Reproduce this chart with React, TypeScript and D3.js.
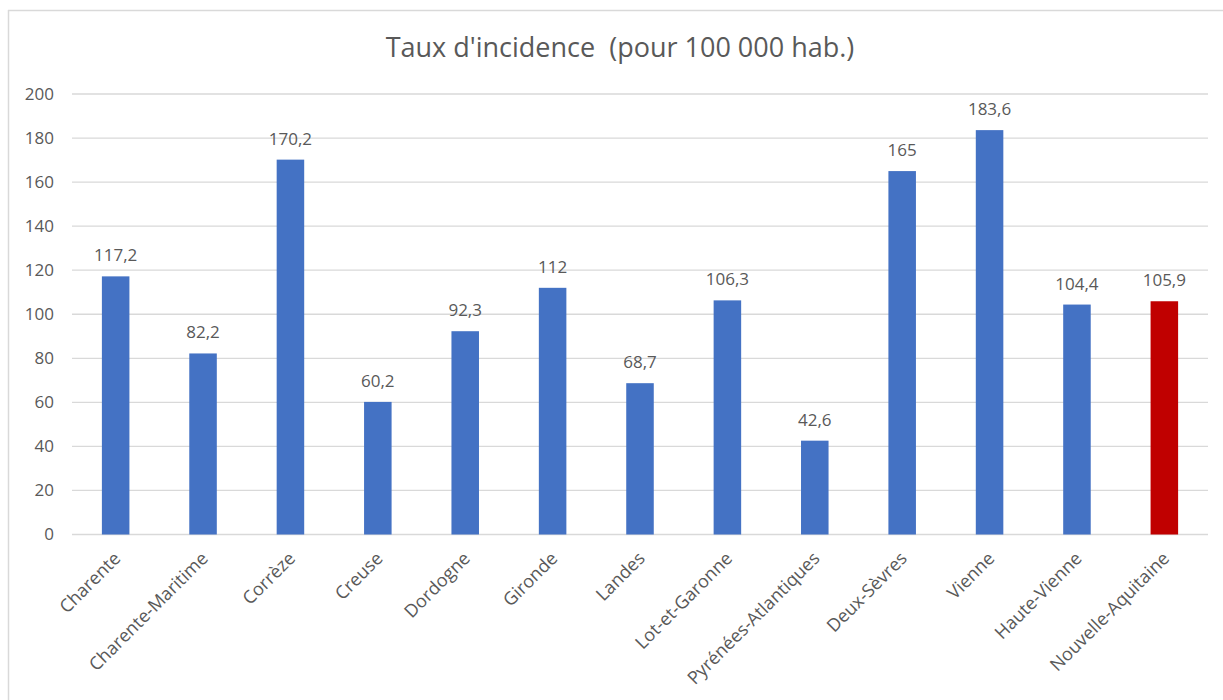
import React from "react";
import * as d3 from "d3";

const categories = [
  "Charente",
  "Charente-Maritime",
  "Corrèze",
  "Creuse",
  "Dordogne",
  "Gironde",
  "Landes",
  "Lot-et-Garonne",
  "Pyrénées-Atlantiques",
  "Deux-Sèvres",
  "Vienne",
  "Haute-Vienne",
  "Nouvelle-Aquitaine",
];
const values = [117.2, 82.2, 170.2, 60.2, 92.3, 112, 68.7, 106.3, 42.6, 165, 183.6, 104.4, 105.9];
const labels = ["117,2", "82,2", "170,2", "60,2", "92,3", "112", "68,7", "106,3", "42,6", "165", "183,6", "104,4", "105,9"];
const yTicks = [0, 20, 40, 60, 80, 100, 120, 140, 160, 180, 200];
const highlight = "Nouvelle-Aquitaine";
const title = "Taux d'incidence  (pour 100 000 hab.)";

const W = 1223;
const H = 700;
const FONT = "'Open Sans', sans-serif";

export default function App() {
  const x = d3.scaleBand<string>().domain(categories).range([72, 1208]).paddingInner(0.685).paddingOuter(0.342);
  const y = d3.scaleLinear().domain([0, 200]).range([534.5, 94]);
  const bw = x.bandwidth();
  return (
    <svg width={W} height={H} style={{ position: "absolute", left: 0, top: 0, background: "#fff" }}>
      <rect x={0} y={0} width={W} height={H} fill="#fff" />
      <line x1={8.5} y1={10} x2={8.5} y2={H} stroke="#D9D9D9" strokeWidth={1.5} />
      <line x1={8} y1={10.5} x2={W} y2={10.5} stroke="#D9D9D9" strokeWidth={1.5} />
      <text x={620} y={57} textAnchor="middle" fontFamily={FONT} fontSize={27} fill="#595959" style={{ whiteSpace: "pre" }}>
        {title}
      </text>
      {yTicks.map((t) => (
        <g key={t}>
          <line x1={72} x2={1208} y1={y(t)} y2={y(t)} stroke="#D9D9D9" strokeWidth={1.3} />
          <text x={54} y={y(t)} dy="0.35em" textAnchor="end" fontFamily={FONT} fontSize={17} fill="#595959">
            {t}
          </text>
        </g>
      ))}
      {categories.map((c, i) => {
        const cx = (x(c) as number) + bw / 2;
        return (
          <g key={c}>
            <rect
              x={x(c)}
              y={y(values[i])}
              width={bw}
              height={y(0) - y(values[i])}
              fill={c === highlight ? "#C00000" : "#4472C4"}
            />
            <text x={cx} y={y(values[i]) - 15} textAnchor="middle" fontFamily={FONT} fontSize={17} fill="#595959">
              {labels[i]}
            </text>
            <text
              transform={`translate(${cx + 6},${y(0) + 25}) rotate(-45)`}
              textAnchor="end"
              fontFamily={FONT}
              fontSize={18}
              fill="#595959"
            >
              {c}
            </text>
          </g>
        );
      })}
    </svg>
  );
}
